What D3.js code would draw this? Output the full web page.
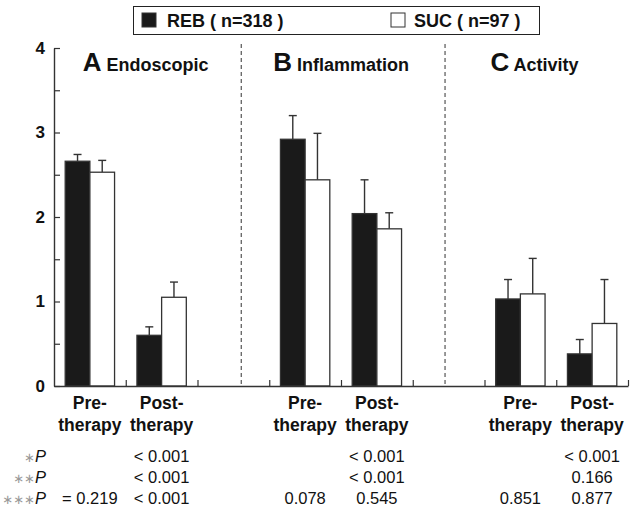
<!DOCTYPE html>
<html>
<head>
<meta charset="utf-8">
<script src="https://cdn.jsdelivr.net/npm/d3@7"></script>
<style>
  body { margin: 0; background: #fff; }
  text { font-family: "Liberation Sans", Arial, sans-serif; fill: #111; }
</style>
</head>
<body>
<svg id="chart" width="638" height="511"></svg>
<script>
// chart data
const letters = ["A", "B", "C"];
const panels = ["Endoscopic", "Inflammation", "Activity"];
const phases = ["Pre-", "Post-"];
const positions = [0.5, 1.5, 3.5, 4.5, 6.5, 7.5];
const rebMean = [2.66, 0.60, 2.92, 2.04, 1.03, 0.38];
const rebSE = [0.08, 0.10, 0.28, 0.40, 0.23, 0.17];
const sucMean = [2.53, 1.05, 2.44, 1.86, 1.09, 0.74];
const sucSE = [0.14, 0.18, 0.55, 0.19, 0.42, 0.52];
const separators = [2.61, 5.45];
const yTicks = [0, 0.5, 1, 1.5, 2, 2.5, 3, 3.5, 4];
const pLabels = ["∗", "∗∗", "∗∗∗"];
const p1 = ["", "< 0.001", "", "< 0.001", "", "< 0.001"];
const p2 = ["", "< 0.001", "", "< 0.001", "", "0.166"];
const p3 = ["= 0.219", "< 0.001", "0.078", "0.545", "0.851", "0.877"];
const legendNames = ["REB ( n=318 )", "SUC ( n=97 )"];

const svg = d3.select("#chart");
const x = d3.scaleLinear().domain([0, 8]).range([54, 628]);
const y = d3.scaleLinear().domain([0, 4]).range([386, 48]);
const bw = 0.344;

// dashed separators
svg.append("g").selectAll("line")
  .data(separators)
  .join("line")
  .attr("x1", d => x(d)).attr("x2", d => x(d))
  .attr("y1", 44).attr("y2", y(0))
  .attr("stroke", "#555").attr("stroke-width", 1.2)
  .attr("stroke-dasharray", "4,3");

// bars
const rows = positions.map((p, i) => ({ p, reb: rebMean[i], rebSE: rebSE[i], suc: sucMean[i], sucSE: sucSE[i] }));
const bars = [];
rows.forEach(r => {
  bars.push({ x0: r.p - bw, x1: r.p, v: r.reb, se: r.rebSE, fill: "#1a1a1a" });
  bars.push({ x0: r.p, x1: r.p + bw, v: r.suc, se: r.sucSE, fill: "#fff" });
});

const eb = svg.append("g");
eb.selectAll("line.v")
  .data(bars).join("line").attr("class", "v")
  .attr("x1", d => x((d.x0 + d.x1) / 2)).attr("x2", d => x((d.x0 + d.x1) / 2))
  .attr("y1", d => y(d.v)).attr("y2", d => y(d.v + d.se))
  .attr("stroke", "#333").attr("stroke-width", 1.4);
eb.selectAll("line.c")
  .data(bars).join("line").attr("class", "c")
  .attr("x1", d => x((d.x0 + d.x1) / 2) - 4).attr("x2", d => x((d.x0 + d.x1) / 2) + 4)
  .attr("y1", d => y(d.v + d.se)).attr("y2", d => y(d.v + d.se))
  .attr("stroke", "#333").attr("stroke-width", 1.4);

svg.append("g").selectAll("rect")
  .data(bars)
  .join("rect")
  .attr("x", d => x(d.x0))
  .attr("y", d => y(d.v))
  .attr("width", d => x(d.x1) - x(d.x0))
  .attr("height", d => y(0) - y(d.v))
  .attr("fill", d => d.fill)
  .attr("stroke", "#333").attr("stroke-width", 1.3);

// axes
const yAxis = svg.append("g")
  .attr("transform", `translate(${x(0)},0)`)
  .call(d3.axisLeft(y).tickValues(yTicks).tickSizeInner(-6).tickSizeOuter(0).tickPadding(9)
    .tickFormat(d => Number.isInteger(d) ? d : ""));
const xAxis = svg.append("g")
  .attr("transform", `translate(0,${y(0)})`)
  .call(d3.axisBottom(x).tickValues([1, 2, 3, 4, 5, 6, 7, 8]).tickSizeInner(-6).tickSizeOuter(0).tickFormat(""));
[yAxis, xAxis].forEach(a => {
  a.select(".domain").attr("stroke", "#333").attr("stroke-width", 1.4);
  a.selectAll(".tick line").attr("stroke", "#333").attr("stroke-width", 1.2);
});
yAxis.selectAll(".tick text")
  .attr("font-size", 17).attr("font-weight", "bold")
  .attr("font-family", "Liberation Sans, Arial, sans-serif").attr("fill", "#111");

// panel titles
const bounds = [x(0), x(separators[0]), x(separators[1]), x(8)];
panels.forEach((name, i) => {
  const t = svg.append("text")
    .attr("x", (bounds[i] + bounds[i + 1]) / 2 - 2)
    .attr("y", 71)
    .attr("text-anchor", "middle")
    .attr("font-weight", "bold");
  t.append("tspan").attr("font-size", 26).text(letters[i]);
  t.append("tspan").attr("font-size", 18).text(" " + name);
});

// x labels
positions.forEach((p, i) => {
  const g = svg.append("text")
    .attr("text-anchor", "middle")
    .attr("font-size", 17.5).attr("font-weight", "bold");
  g.append("tspan").attr("x", x(p)).attr("y", 409).text(phases[i % 2]);
  g.append("tspan").attr("x", x(p)).attr("y", 431).text("therapy");
});

// p-value table
[p1, p2, p3].forEach((vals, r) => {
  const yy = 462 + r * 21;
  const lab = svg.append("text").attr("x", 46).attr("y", yy)
    .attr("text-anchor", "end").attr("font-size", 16.5);
  lab.append("tspan").attr("fill", "#999").attr("font-family", "DejaVu Sans, sans-serif")
    .attr("font-size", 13).text(pLabels[r]);
  lab.append("tspan").attr("font-style", "italic").text("P");
  svg.append("g").selectAll("text")
    .data(vals)
    .join("text")
    .attr("x", (d, i) => x(positions[i]))
    .attr("y", yy)
    .attr("text-anchor", "middle")
    .attr("font-size", 16.5)
    .text(d => d);
});

// legend
const lg = svg.append("g");
lg.append("rect").attr("x", 133.5).attr("y", 6.5).attr("width", 406).attr("height", 28)
  .attr("fill", "#fff").attr("stroke", "#222").attr("stroke-width", 1);
const items = [{ fill: "#1a1a1a", x: 142, tx: 167 }, { fill: "#fff", x: 391, tx: 414 }];
items.forEach((it, i) => {
  lg.append("rect").attr("x", it.x).attr("y", 13).attr("width", 14).attr("height", 14)
    .attr("fill", it.fill).attr("stroke", "#333").attr("stroke-width", 1);
  lg.append("text").attr("x", it.tx).attr("y", 27)
    .attr("font-size", 18).attr("font-weight", "bold").text(legendNames[i]);
});
</script>
</body>
</html>
